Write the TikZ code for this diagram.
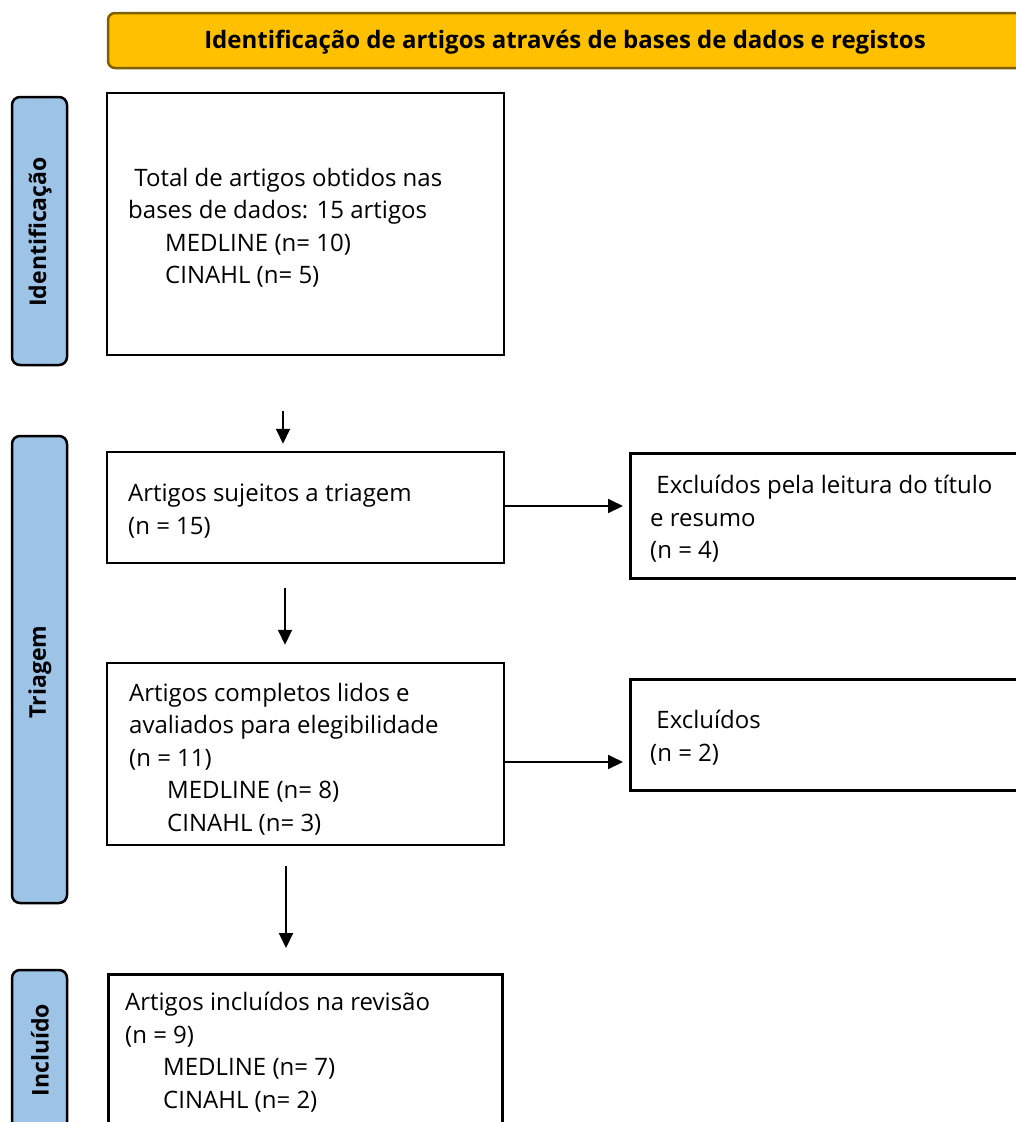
\documentclass[tikz,border=0pt]{standalone}
\usepackage{fontspec}
\setmainfont{Open Sans}
\usetikzlibrary{arrows.meta}
\definecolor{banner}{HTML}{FFC000}
\definecolor{bannerline}{HTML}{7F6000}
\definecolor{sidefill}{HTML}{9DC3E6}
\tikzset{
  stagebox/.style={draw=black, line width=2.5pt, fill=white, rectangle, inner sep=0pt},
  sidebox/.style={draw=black, line width=2.5pt, fill=sidefill, rounded corners=8pt},
  sidetext/.style={rotate=90, font=\fontsize{23}{27}\selectfont\bfseries},
  boxtext/.style={anchor=north west, align=left, inner sep=0pt, font=\fontsize{24}{32.5}\selectfont},
  flow/.style={line width=2pt, -{Triangle[length=15pt,width=14pt]}}
}
\begin{document}
\begin{tikzpicture}[x=1pt,y=-1pt]
\useasboundingbox (0,0) rectangle (1016,1122);
\clip (0,0) rectangle (1016,1122);
\fill[white] (0,0) rectangle (1016,1122);
% banner
\draw[fill=banner, draw=bannerline, line width=2.5pt, rounded corners=7pt] (108,13) rectangle (1040,68);
\node[font=\fontsize{24}{28}\selectfont\bfseries] (title) at (565,42) {Identificação de artigos através de bases de dados e registos};
% side labels
\draw[sidebox] (12,97) rectangle (67,365);
\node[sidetext] (sid) at (40,232) {Identificação};
\draw[sidebox] (12,436) rectangle (67,903);
\node[sidetext] (stri) at (40,672) {Triagem};
\draw[sidebox] (12,970) rectangle (67,1160);
\node[sidetext] (sinc) at (40,1050) {Incluído};
% boxes
\node[stagebox, minimum width=397pt, minimum height=262pt] (b1) at (305.5,224) {};
\node[stagebox, minimum width=397pt, minimum height=111pt] (b2) at (305.5,507.5) {};
\node[stagebox, minimum width=420pt, minimum height=125pt, anchor=north west] (b3) at (629,452) {};
\node[stagebox, minimum width=397pt, minimum height=182pt] (b4) at (305.5,754) {};
\node[stagebox, minimum width=420pt, minimum height=111pt, anchor=north west] (b5) at (629,678) {};
\node[stagebox, minimum width=394pt, minimum height=200pt, anchor=north west] (b6) at (107,973) {};
% texts
\node[boxtext] (t1) at (128,168) {\ Total de artigos obtidos nas\\bases de dados: 15 artigos\\\hspace*{37pt}MEDLINE (n= 10)\\\hspace*{37pt}CINAHL (n= 5)};
\node[boxtext] (t2) at (128,484) {Artigos sujeitos a triagem\\(n = 15)};
\node[boxtext] (t3) at (650,475) {\ Excluídos pela leitura do título\\e resumo\\(n = 4)};
\node[boxtext] (t4) at (129,683) {Artigos completos lidos e\\avaliados para elegibilidade\\(n = 11)\\\hspace*{38pt}MEDLINE (n= 8)\\\hspace*{38pt}CINAHL (n= 3)};
\node[boxtext] (t5) at (650,710) {\ Excluídos\\(n = 2)};
\node[boxtext] (t6) at (125,992) {Artigos incluídos na revisão\\(n = 9)\\\hspace*{38pt}MEDLINE (n= 7)\\\hspace*{38pt}CINAHL (n= 2)};
% connectors
\coordinate (a1s) at ([xshift=-22.5pt,yshift=-55pt]b1.south);
\coordinate (a1e) at ([xshift=-22.5pt,yshift=7pt]b2.north);
\draw[flow] (a1s) -- (a1e);
\coordinate (a2s) at ([xshift=-20.5pt,yshift=-24pt]b2.south);
\coordinate (a2e) at ([xshift=-20.5pt,yshift=17pt]b4.north);
\draw[flow] (a2s) -- (a2e);
\coordinate (a3s) at ([xshift=-19.5pt,yshift=-20pt]b4.south);
\coordinate (a3e) at ([yshift=25pt]b6.north);
\draw[flow] (a3s) -- (a3s |- a3e);
\coordinate (h1) at ([yshift=1.5pt]b2.east);
\draw[flow] (h1) -- ([xshift=-6pt]h1 -| b3.west);
\coordinate (h2) at ([yshift=-8pt]b4.east);
\draw[flow] (h2) -- ([xshift=-6pt]h2 -| b5.west);
\end{tikzpicture}
\end{document}
